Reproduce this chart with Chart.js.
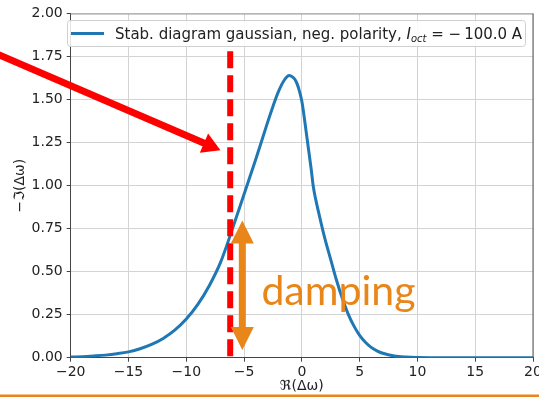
<!DOCTYPE html>
<html>
<head>
<meta charset="utf-8">
<script src="https://cdn.jsdelivr.net/npm/chart.js@4"></script>
<style>
  html, body { margin: 0; padding: 0; background: #fff; }
</style>
</head>
<body>
<canvas id="myChart" width="539" height="397"></canvas>
<script>
const reOmega = [-20, -19, -18, -17, -16, -15, -14, -13, -12, -11, -10, -9, -8, -7, -6, -5,
  -4, -3, -2.5, -2, -1.5, -1.1, -0.7, -0.5, -0.3, 0, 0.4, 0.8, 1.0, 1.2, 1.5, 2, 2.5, 3, 3.5,
  4, 4.5, 5, 5.5, 6, 6.5, 7, 8, 9, 10, 12, 15, 20];
const minusImOmega = [0.004, 0.006, 0.010, 0.015, 0.023, 0.034, 0.052, 0.077, 0.112, 0.16, 0.225, 0.31, 0.42, 0.56, 0.75, 0.95,
  1.15, 1.36, 1.46, 1.55, 1.615, 1.64, 1.625, 1.605, 1.57, 1.49, 1.30, 1.10, 0.99, 0.92, 0.83, 0.69, 0.57, 0.45, 0.345,
  0.255, 0.185, 0.13, 0.09, 0.06, 0.04, 0.026, 0.01, 0.004, 0.0015, 0.0003, 0, 0];

const xTickValues = [-20, -15, -10, -5, 0, 5, 10, 15, 20];
const yTickValues = [0, 0.25, 0.5, 0.75, 1.0, 1.25, 1.5, 1.75, 2.0];

// vertical stability limit (red dashed)
const limitX = -6.2;
const limitTop = 1.78;

// annotations in data units
const redArrowFrom = [-27, 1.783];
const redArrowTo = [-7.04, 1.205];
const dampingX = -5.15;
const dampingFrom = 0.045;
const dampingTo = 0.797;
const dampingLabel = 'damping';
const dampingLabelPos = [-3.5, 0.306];

const xTitle = 'ℜ(Δω)';
const yTitle = '−ℑ(Δω)';
const legendMain = 'Stab. diagram gaussian, neg. polarity, ';
const legendSym = 'I';
const legendSub = 'oct';
const legendRest = ' = −\u2009100.0 A';

const blue = '#1f77b4';
const orange = '#e8861a';
const tickFont = { family: 'DejaVu Sans', size: 14 };

function drawArrow(ctx, x0, y0, x1, y1, shaft, headLen, headW, color, both) {
    const ang = Math.atan2(y1 - y0, x1 - x0);
    const len = Math.hypot(x1 - x0, y1 - y0);
    ctx.save();
    ctx.translate(x0, y0);
    ctx.rotate(ang);
    ctx.fillStyle = color;
    const start = both ? headLen - 1 : 0;
    ctx.fillRect(start, -shaft / 2, len - headLen + 1 - start, shaft);
    ctx.beginPath();
    ctx.moveTo(len, 0);
    ctx.lineTo(len - headLen, -headW / 2);
    ctx.lineTo(len - headLen, headW / 2);
    ctx.closePath();
    ctx.fill();
    if (both) {
        ctx.beginPath();
        ctx.moveTo(0, 0);
        ctx.lineTo(headLen, -headW / 2);
        ctx.lineTo(headLen, headW / 2);
        ctx.closePath();
        ctx.fill();
    }
    ctx.restore();
}

const overlays = {
    id: 'overlays',
    afterDatasetsDraw(chart) {
        const { ctx, chartArea, scales: { x, y } } = chart;
        ctx.save();
        // top and right spines
        ctx.lineWidth = 1;
        ctx.strokeStyle = '#999';
        ctx.beginPath();
        ctx.moveTo(chartArea.left, chartArea.top + 0.5);
        ctx.lineTo(chartArea.right, chartArea.top + 0.5);
        ctx.stroke();
        ctx.strokeStyle = '#555';
        ctx.beginPath();
        ctx.moveTo(chartArea.right, chartArea.top);
        ctx.lineTo(chartArea.right, chartArea.bottom);
        ctx.stroke();

        // legend
        ctx.fillStyle = 'rgba(255,255,255,0.85)';
        ctx.strokeStyle = '#d0d0d0';
        ctx.beginPath();
        ctx.roundRect(67.5, 20.5, 458, 26, 3);
        ctx.fill();
        ctx.stroke();
        ctx.strokeStyle = blue;
        ctx.lineWidth = 3;
        ctx.beginPath();
        ctx.moveTo(71, 33.5);
        ctx.lineTo(104, 33.5);
        ctx.stroke();
        ctx.fillStyle = '#222';
        ctx.textBaseline = 'alphabetic';
        let tx = 115;
        const base = 39;
        ctx.font = '15px "DejaVu Sans"';
        ctx.fillText(legendMain, tx, base);
        tx += ctx.measureText(legendMain).width;
        ctx.font = 'italic 15px "DejaVu Sans"';
        ctx.fillText(legendSym, tx, base);
        tx += ctx.measureText(legendSym).width;
        ctx.font = 'italic 10px "DejaVu Sans"';
        ctx.fillText(legendSub, tx, base + 3);
        tx += ctx.measureText(legendSub).width;
        ctx.font = '15px "DejaVu Sans"';
        ctx.fillText(legendRest, tx, base);

        // red arrow pointing at the stability limit
        drawArrow(ctx,
            x.getPixelForValue(redArrowFrom[0]), y.getPixelForValue(redArrowFrom[1]),
            x.getPixelForValue(redArrowTo[0]), y.getPixelForValue(redArrowTo[1]),
            7, 18, 21, '#ff0000', false);

        // orange damping arrow
        const dx = x.getPixelForValue(dampingX);
        drawArrow(ctx, dx, y.getPixelForValue(dampingFrom), dx, y.getPixelForValue(dampingTo),
            7, 23, 23, orange, true);

        ctx.fillStyle = orange;
        ctx.font = '41px Lato';
        ctx.textBaseline = 'alphabetic';
        ctx.fillText(dampingLabel, x.getPixelForValue(dampingLabelPos[0]), y.getPixelForValue(dampingLabelPos[1]));
        ctx.restore();
    },
    afterDraw(chart) {
        const ctx = chart.ctx;
        ctx.save();
        ctx.fillStyle = orange;
        ctx.fillRect(0, 394.5, chart.width, 3);
        ctx.restore();
    }
};

const ctx = document.getElementById('myChart').getContext('2d');

const myChart = new Chart(ctx, {
    type: 'line',
    data: {
        datasets: [
            {
                label: 'limit',
                data: [{ x: limitX, y: limitTop }, { x: limitX, y: 0 }],
                borderColor: '#ff0000',
                borderWidth: 6,
                borderDash: [17, 7],
                pointRadius: 0,
                order: 0
            },
            {
                label: legendMain + legendSym + legendSub + legendRest,
                data: reOmega.map((v, i) => ({ x: v, y: minusImOmega[i] })),
                borderColor: blue,
                borderWidth: 3,
                pointRadius: 0,
                cubicInterpolationMode: 'monotone',
                order: 1
            }
        ]
    },
    options: {
        responsive: false,
        animation: false,
        layout: { padding: { top: 13.5, right: 6, left: 0, bottom: 0 } },
        plugins: { legend: { display: false }, tooltip: { enabled: false } },
        scales: {
            x: {
                type: 'linear',
                min: -20,
                max: 20,
                afterBuildTicks: s => { s.ticks = xTickValues.map(v => ({ value: v })); },
                afterFit: s => { s.height = 39.3; s.paddingLeft = 0; s.paddingRight = 0; },
                ticks: {
                    font: tickFont,
                    color: '#222',
                    padding: 2,
                    maxRotation: 0,
                    callback: v => String(v).replace('-', '−')
                },
                grid: { color: '#d3d3d3', tickColor: '#444', tickLength: 4 },
                border: { color: '#444', width: 1 },
                title: { display: true, text: xTitle, font: tickFont, color: '#222', padding: { top: 0, bottom: 2 } }
            },
            y: {
                min: 0,
                max: 2,
                afterBuildTicks: s => { s.ticks = yTickValues.map(v => ({ value: v })); },
                afterFit: s => { s.width = 70.7; s.paddingTop = 0; s.paddingBottom = 0; },
                ticks: {
                    font: tickFont,
                    color: '#222',
                    padding: 4,
                    callback: v => v.toFixed(2)
                },
                grid: { color: '#d3d3d3', tickColor: '#444', tickLength: 4 },
                border: { color: '#444', width: 1 },
                title: { display: true, text: yTitle, font: tickFont, color: '#222', padding: { top: 12, bottom: 0 } }
            }
        }
    },
    plugins: [overlays]
});
</script>
</body>
</html>
